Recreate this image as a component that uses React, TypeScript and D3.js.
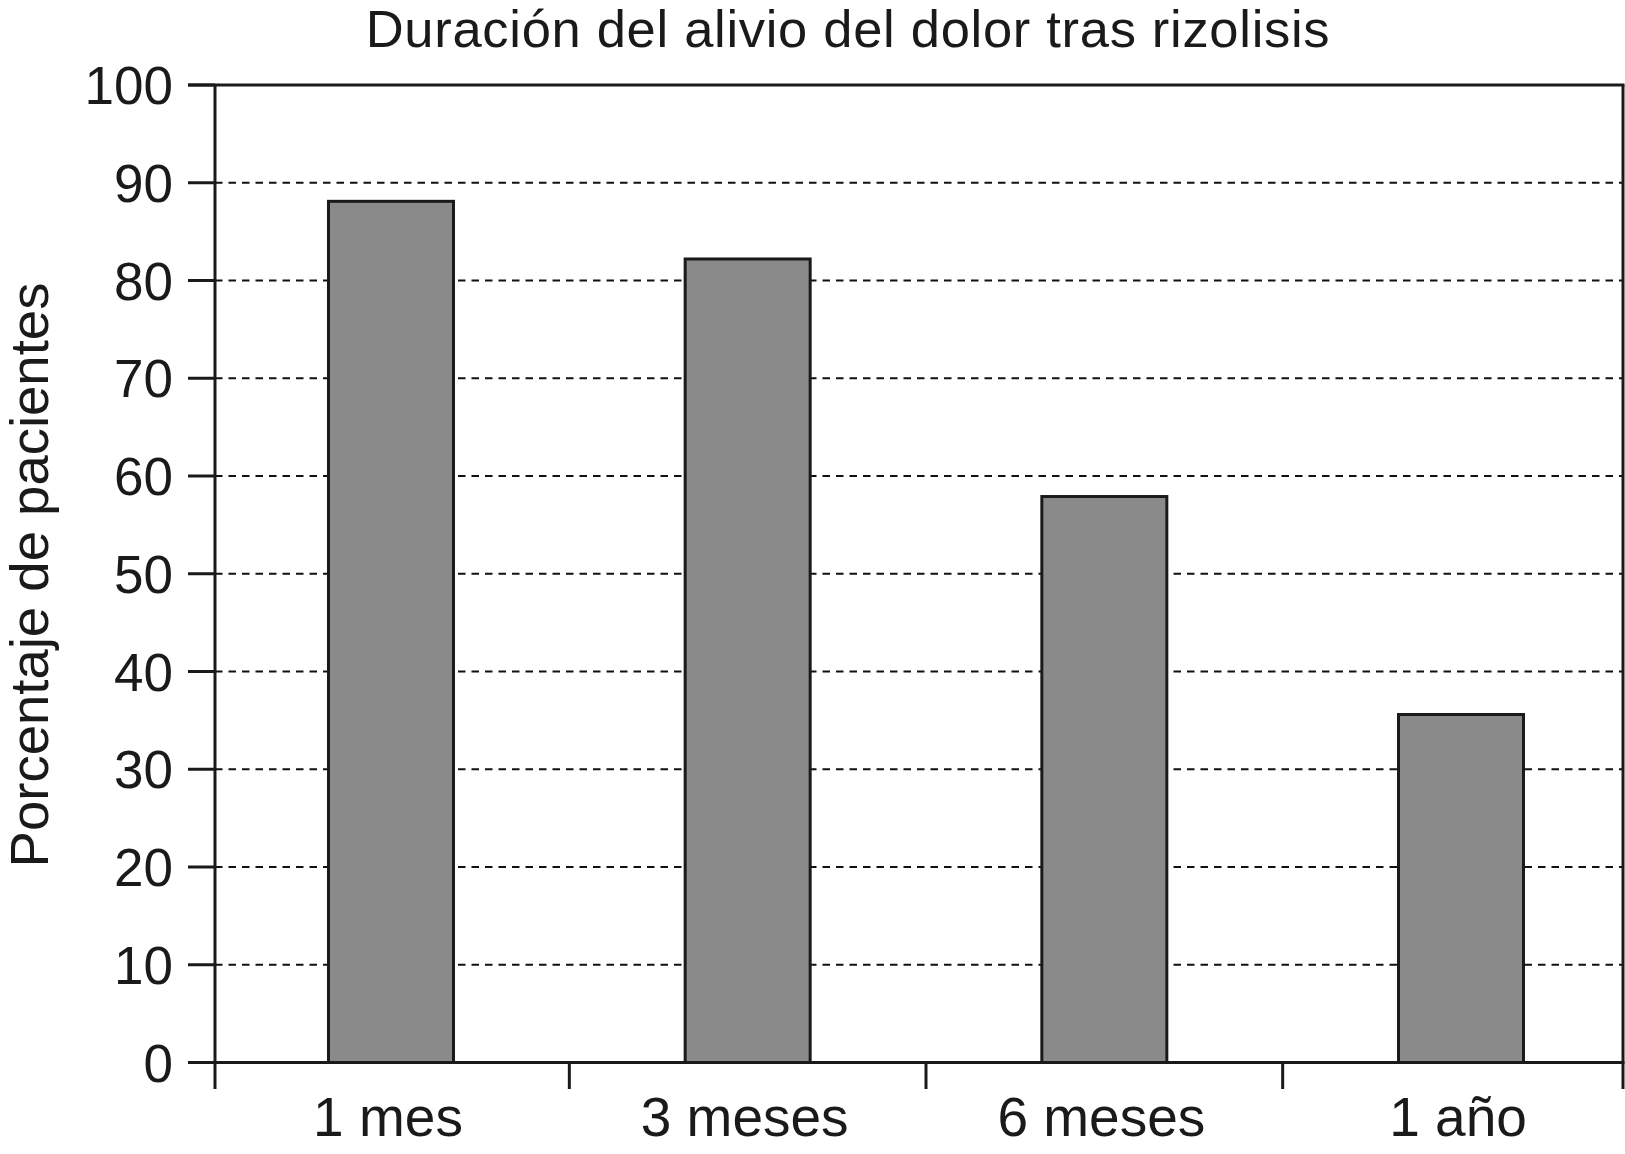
import React from "react";
import * as d3 from "d3";

const categories = ["1 mes", "3 meses", "6 meses", "1 año"];
const values = [88.1, 82.2, 57.9, 35.6];
const yTicks = [0, 10, 20, 30, 40, 50, 60, 70, 80, 90, 100];
const title = "Duración del alivio del dolor tras rizolisis";
const yLabel = "Porcentaje de pacientes";

const W = 1625;
const H = 1154;
const left = 215;
const right = 1623;
const top = 85;
const bottom = 1062.5;
const font = "'Liberation Sans', Arial, sans-serif";

export default function App() {
  const y = d3.scaleLinear().domain([0, 100]).range([bottom, top]);
  const x = d3.scalePoint<string>().domain(categories).range([391, 1461]);
  const barW = 125;
  const step = x.step();
  const separators = categories.slice(0, -1).map((c) => (x(c) as number) + step / 2);
  const tickBottom = 1089;

  return (
    <svg
      width={W}
      height={H}
      style={{ position: "absolute", left: 0, top: 0, background: "#fff" }}
      fontFamily={font}
    >
      <rect x={0} y={0} width={W} height={H} fill="#fff" />
      {/* gridlines */}
      {yTicks
        .filter((t) => t > 0 && t < 100)
        .map((t) => (
          <line
            key={"g" + t}
            x1={left}
            x2={right}
            y1={y(t)}
            y2={y(t)}
            stroke="#111"
            strokeWidth={1.8}
            strokeDasharray="7.5,6"
          />
        ))}
      {/* bars */}
      {categories.map((c, i) => (
        <rect
          key={c}
          x={(x(c) as number) - barW / 2}
          y={y(values[i])}
          width={barW}
          height={y(0) - y(values[i])}
          fill="#8a8a8a"
          stroke="#1a1a1a"
          strokeWidth={3}
        />
      ))}
      {/* frame */}
      <line x1={left} x2={left} y1={top} y2={tickBottom} stroke="#1a1a1a" strokeWidth={3} />
      <line x1={right} x2={right} y1={top} y2={tickBottom} stroke="#1a1a1a" strokeWidth={3} />
      <line x1={188} x2={right + 1.5} y1={top} y2={top} stroke="#1a1a1a" strokeWidth={3} />
      <line x1={188} x2={right + 1.5} y1={y(0)} y2={y(0)} stroke="#1a1a1a" strokeWidth={3} />
      {/* y ticks */}
      {yTicks.map((t) => (
        <g key={"t" + t}>
          <line x1={188} x2={left} y1={y(t)} y2={y(t)} stroke="#1a1a1a" strokeWidth={3} />
          <text
            x={173}
            y={y(t)}
            dy="0.36em"
            textAnchor="end"
            fontSize={53}
            fill="#1a1a1a"
          >
            {t}
          </text>
        </g>
      ))}
      {/* x separators */}
      {separators.map((s, i) => (
        <line key={"s" + i} x1={s} x2={s} y1={y(0)} y2={tickBottom} stroke="#1a1a1a" strokeWidth={3} />
      ))}
      {/* x labels */}
      {categories.map((c) => (
        <text
          key={"l" + c}
          x={(x(c) as number) - 3}
          y={1136}
          textAnchor="middle"
          fontSize={55}
          fill="#1a1a1a"
        >
          {c}
        </text>
      ))}
      {/* title */}
      <text
        x={848}
        y={47}
        textAnchor="middle"
        fontSize={52.5}
        letterSpacing={0.7}
        fill="#1a1a1a"
      >
        {title}
      </text>
      {/* y label */}
      <text
        transform={`translate(48, 575) rotate(-90)`}
        textAnchor="middle"
        fontSize={54.5}
        fill="#1a1a1a"
      >
        {yLabel}
      </text>
    </svg>
  );
}
